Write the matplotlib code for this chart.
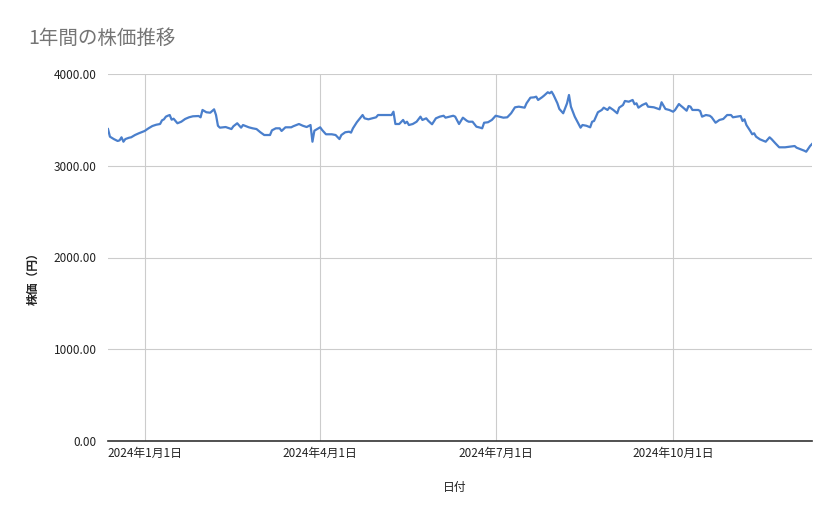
import matplotlib
matplotlib.use('Agg')
import matplotlib.pyplot as plt
import matplotlib.dates as mdates
import matplotlib.ticker as mticker
import numpy as np

plt.rcParams['font.family'] = ['Noto Sans CJK JP', 'DejaVu Sans']

# days from 2024-01-01 and closing price (yen)
days = [-19, -18, -16, -14, -13, -12, -11, -10, -8, -7, -5, -3,
        0, 2, 4, 6, 8, 9, 10, 11, 12, 13, 14, 15, 17, 19, 21, 23, 25, 28, 29, 30,
        32, 34, 36, 37, 38, 39, 41, 42, 45, 46, 48, 50, 51, 54, 56, 58,
        60, 62, 65, 66, 68, 70, 71, 73, 76, 77, 80, 82, 84, 86, 87, 88,
        91, 92, 94, 97, 99, 101, 102, 104, 106, 107, 108, 110, 113, 114, 116, 118, 120,
        121, 124, 128, 129, 130, 132, 134, 135, 136, 137, 139, 141, 143, 144, 146, 147, 149, 151,
        153, 155, 156, 158, 160, 161, 163, 165, 167, 168, 170, 172, 174, 175, 176, 178, 180,
        182, 184, 186, 188, 190, 192, 194, 197, 198, 200, 202, 203, 204, 206, 207, 209, 210, 211, 212,
        214, 215, 217, 218, 219, 220, 221, 223, 226, 227, 229, 231, 232, 233, 235, 237, 238, 240, 241, 243,
        245, 246, 248, 249, 251, 253, 254, 255, 256, 258, 260, 261, 264, 267, 268, 270, 272,
        274, 275, 277, 278, 279, 281, 282, 283, 284, 287, 288, 289, 291, 293, 294, 296, 298, 300, 302, 304,
        305, 307, 309, 310, 311, 312, 314, 315, 316, 317, 319, 322, 324, 325, 327, 329, 332,
        337, 338, 342, 343, 345, 346]
price = [3400, 3317, 3291, 3270, 3277, 3310, 3262, 3291, 3306, 3310, 3335, 3354,
         3379, 3408, 3433, 3447, 3455, 3495, 3506, 3535, 3545, 3553, 3502, 3513, 3463, 3480, 3510, 3528, 3539, 3542, 3528, 3608,
         3583, 3578, 3615, 3553, 3436, 3415, 3419, 3422, 3400, 3430, 3463, 3415, 3444, 3419, 3408, 3400,
         3365, 3335, 3335, 3386, 3408, 3408, 3379, 3419, 3419, 3430, 3455, 3436, 3422, 3444, 3262, 3382,
         3419, 3390, 3343, 3343, 3335, 3291, 3335, 3365, 3371, 3361, 3408, 3474, 3553, 3517, 3506, 3517, 3528,
         3553, 3553, 3553, 3589, 3455, 3455, 3499, 3463, 3480, 3444, 3455, 3480, 3535, 3499, 3517, 3491, 3452, 3517,
         3535, 3545, 3524, 3535, 3545, 3535, 3455, 3524, 3491, 3480, 3480, 3426, 3415, 3408, 3469, 3474, 3499,
         3545, 3535, 3524, 3528, 3572, 3637, 3644, 3633, 3681, 3742, 3746, 3753, 3717, 3746, 3763, 3801, 3790, 3807, 3771,
         3681, 3619, 3572, 3626, 3681, 3771, 3644, 3535, 3415, 3444, 3436, 3419, 3480, 3488, 3583, 3608, 3633, 3608, 3637, 3608,
         3572, 3633, 3662, 3706, 3698, 3717, 3670, 3681, 3633, 3662, 3681, 3644, 3637, 3615, 3692, 3619, 3608,
         3589, 3608, 3673, 3654, 3637, 3600, 3651, 3644, 3608, 3608, 3597, 3535, 3553, 3545, 3528, 3469, 3499, 3510, 3553, 3553,
         3528, 3535, 3542, 3488, 3506, 3444, 3379, 3343, 3354, 3317, 3288, 3262, 3310, 3291, 3245, 3201, 3201,
         3215, 3197, 3164, 3153, 3215, 3237]

tick_dates = ['2024-01-01', '2024-04-01', '2024-07-01', '2024-10-01']
tick_labels = ['2024年1月1日', '2024年4月1日', '2024年7月1日', '2024年10月1日']

dates = np.datetime64('2024-01-01') + np.array(days).astype('timedelta64[D]')

fig = plt.figure(figsize=(8.39, 5.19), dpi=100)
ax = fig.add_axes([108/839, 1 - 441/519, (812 - 108)/839, (441 - 74)/519])

ax.plot(dates, price, color='#4a7fcc', lw=1.6, solid_joinstyle='round')

ax.set_xlim(dates[0], dates[-1])
ax.set_ylim(0, 4000)
ax.yaxis.set_major_locator(mticker.MultipleLocator(1000))
ax.yaxis.set_major_formatter(mticker.FormatStrFormatter('%.2f'))
ax.set_xticks([np.datetime64(d) for d in tick_dates])
ax.set_xticklabels(tick_labels)

ax.grid(True, color='#cccccc', lw=0.8)
ax.set_axisbelow(True)
for s in ['top', 'right', 'left']:
    ax.spines[s].set_visible(False)
ax.spines['bottom'].set_color('#333333')
ax.spines['bottom'].set_linewidth(1.2)
ax.tick_params(axis='both', length=0, labelsize=8.5, colors='#222222')
ax.tick_params(axis='y', pad=8)
ax.tick_params(axis='x', pad=4)

fig.text(28/839, 1 - 38/519, '1年間の株価推移', fontsize=14, color='#757575', va='center', ha='left')
fig.text(455/839, 1 - 487/519, '日付', fontsize=8.5, color='#222222', ha='center', va='center')
fig.text(33/839, 1 - 276/519, '株価（円）', fontsize=8.5, color='#222222', rotation=90,
         ha='center', va='center', fontweight='bold')

plt.savefig('out.png', dpi=100)
plt.close()
